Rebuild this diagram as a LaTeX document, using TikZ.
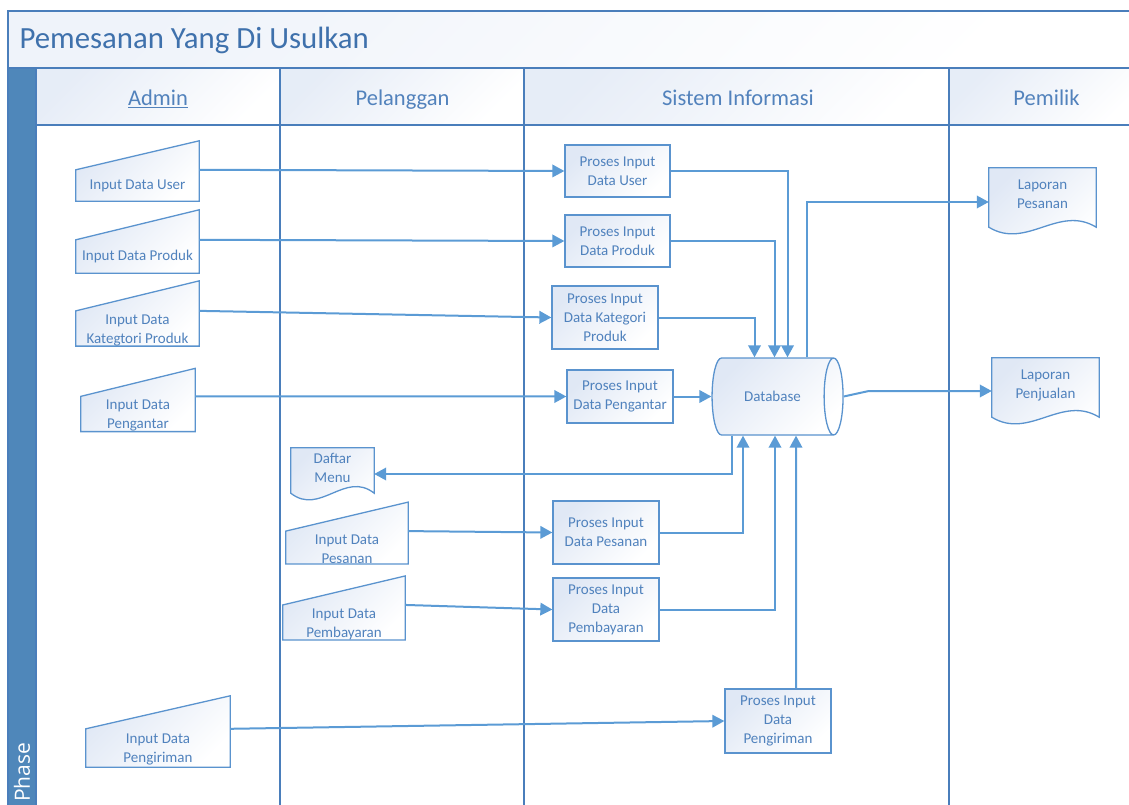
\documentclass[tikz,border=0pt]{standalone}
\usepackage{fontspec}
\setmainfont{Carlito}
\newfontfamily\phasefont{Open Sans}
\usepackage{tikz}
\usetikzlibrary{arrows.meta,calc,shapes.geometric,backgrounds}

\definecolor{lanecol}{HTML}{4A7EBB}
\definecolor{flowcol}{HTML}{5B9BD5}
\definecolor{shapecol}{HTML}{5A93CE}
\definecolor{txtcol}{HTML}{5082BD}
\definecolor{headcol}{HTML}{5282BC}
\definecolor{titlecol}{HTML}{3F71AC}
\definecolor{phasecol}{HTML}{4F87BA}
\definecolor{gradcol}{HTML}{E0E8F5}

\begin{document}
\begin{tikzpicture}[
			x=1pt, y=-1pt,
			lane/.style={draw=lanecol, line width=1.4pt},
			flow/.style={draw=flowcol, line width=2pt, -{Triangle[length=12pt,width=12.5pt]}},
			shapeline/.style={draw=shapecol, line width=1.3pt, top color=gradcol, bottom color=white, shading angle=45},
			nodetext/.style={inner sep=0pt, text=txtcol, align=center, font=\fontsize{15}{19}\selectfont},
			proses/.style={nodetext, shapeline, rectangle, minimum width=106pt, minimum height=63pt},
			manin/.style={nodetext, minimum width=123pt, minimum height=31pt},
			doc/.style={nodetext, minimum width=107pt, minimum height=59pt},
			head/.style={anchor=base, text=headcol, font=\fontsize{22.5}{26}\selectfont}
			]
			\clip (0,0) rectangle (1129,805);
			\useasboundingbox (0,0) rectangle (1129,805);
			% Pool and lanes
			\shade[top color=gradcol!50, bottom color=white, shading angle=45] (8,11) rectangle (1140,68);
			\foreach \a/\b in {36/280,280/524,524/949,949/1140}
				\shade[top color=gradcol!80, bottom color=white, shading angle=45] (\a,68) rectangle (\b,125);
			\fill[phasecol] (8,68) rectangle (36,805);
			\draw[lane] (8,805) -- (8,11) -- (1140,11);
			\draw[lane] (8,68) -- (1140,68);
			\draw[lane] (36,125) -- (1140,125);
			\foreach \x in {36,280,524,949}
				\draw[lane] (\x,68) -- (\x,805);
			\node[anchor=base west, text=titlecol, font=\fontsize{30.8}{35}\selectfont] (judul) at (16,49) {Pemesanan Yang Di Usulkan};
			\node[head] (hAdmin) at (158,106) {\underline{Admin}};
			\node[head] (hPelanggan) at (402.5,106) {Pelanggan};
			\node[head] (hSistem) at (738,106) {Sistem Informasi};
			\node[head] (hPemilik) at (1046.5,106) {Pemilik};
			\node[rotate=90, anchor=west, inner sep=0pt, text=white, font=\phasefont\fontsize{21}{25}\selectfont] (phase) at (22,802) {Phase};
			
			% Input manual
			\node[manin] (inUser) at (137.5,185.5) {Input Data User};
			\node[manin, minimum height=33pt] (inProduk) at (137.5,256.5) {Input Data Produk};
			\node[manin, minimum height=33pt] (inKategori) at (137.5,328.5) {\strut Input Data\\Kategtori Produk};
			\node[manin, minimum width=114pt, minimum height=30pt] (inPengantar) at (138,414) {\strut Input Data\\Pengantar};
			\node[manin, minimum width=122pt] (inPesanan) at (347,547.5) {\strut Input Data\\Pesanan};
			\node[manin, minimum width=122pt] (inPembayaran) at (344,622.5) {\strut Input Data\\Pembayaran};
			\node[manin, minimum width=144pt, minimum height=38pt] (inPengiriman) at (158,748) {\strut Input Data\\Pengiriman};
			
			% Proses
			\node[proses, minimum width=105pt, minimum height=52pt] (prUser) at (617.5,171) {Proses Input\\Data User};
			\node[proses, minimum width=105pt, minimum height=52pt] (prProduk) at (617.5,241) {Proses Input\\Data Produk};
			\node[proses] (prKategori) at (605,317.5) {Proses Input\\Data Kategori\\Produk};
			\node[proses, minimum height=53pt] (prPengantar) at (620,396.5) {Proses Input\\Data Pengantar};
			\node[proses] (prPesanan) at (606,532.5) {Proses Input\\Data Pesanan};
			\node[proses] (prPembayaran) at (606,609.5) {Proses Input\\Data\\Pembayaran};
			\node[proses, minimum height=64pt] (prPengiriman) at (778,721) {Proses Input\\Data\\Pengiriman};
			
			% Database
			\node[nodetext, shapeline, cylinder, aspect=1.8, minimum width=77pt, minimum height=131pt] (db) at (772.5,396.5) {Database};
			
			% Dokumen
			\node[doc] (lapPesanan) at (1042.5,197.5) {Laporan\\Pesanan\strut};
			\node[doc] (lapPenjualan) at (1045.5,387.5) {Laporan\\Penjualan\strut};
			\node[doc, minimum width=83pt, minimum height=45pt] (daftar) at (332.5,470.5) {Daftar\\Menu\strut};
			
			\begin{pgfonlayer}{background}
				\foreach \n/\r in {inUser/29,inProduk/30,inKategori/30,inPengantar/28,inPesanan/29,inPembayaran/29,inPengiriman/33}
					\draw[shapeline] (\n.south west) -- (\n.north west) -- ([yshift=\r pt]\n.north east) -- (\n.south east) -- cycle;
				\foreach \n in {lapPesanan,lapPenjualan,daftar}
					\draw[shapeline] (\n.north west) -- (\n.north east) -- (\n.south east)
						.. controls ($(\n.south east)!0.35!(\n.south west)+(0pt,23pt)$) and ($(\n.south west)!0.35!(\n.south east)+(0pt,-23pt)$) .. (\n.south west) -- cycle;
			\end{pgfonlayer}
			
			% Alur input ke proses
			\draw[flow] (inUser.north east) -- (prUser.west);
			\draw[flow] (inProduk.north east) -- (prProduk.west);
			\draw[flow] (inKategori.north east) -- (prKategori.west);
			\draw[flow] (inPengantar.north east) -- (prPengantar.west);
			\draw[flow] (inPesanan.north east) -- (prPesanan.west);
			\draw[flow] (inPembayaran.north east) -- (prPembayaran.west);
			\draw[flow] (inPengiriman.north east) -- (prPengiriman.west);
			% Proses ke database
			\draw[flow] (prUser.east) -| ([xshift=15pt]db.north);
			\draw[flow] (prProduk.east) -| ([xshift=2pt]db.north);
			\draw[flow] (prKategori.east) -| ([xshift=-18pt]db.north);
			\draw[flow] (prPengantar.east) -- (db.west);
			\draw[flow] (prPesanan.east) -| ([xshift=-29.5pt]db.south);
			\draw[flow] (prPembayaran.east) -| ([xshift=2.5pt]db.south);
			\draw[flow] ([xshift=18pt]prPengiriman.north) -- ([xshift=23.5pt]db.south);
			% Database ke laporan
			\draw[flow] ([xshift=34.5pt]db.north) |- ([yshift=-4.5pt]lapPesanan.west);
			\draw[flow] (db.east) -- ([xshift=-123pt,yshift=-3.5pt]lapPenjualan.west) -- ([yshift=-3.5pt]lapPenjualan.west);
			\draw[flow] ([xshift=-40.5pt]db.south) |- ([yshift=-3.5pt]daftar.east);
		\end{tikzpicture}
\end{document}
